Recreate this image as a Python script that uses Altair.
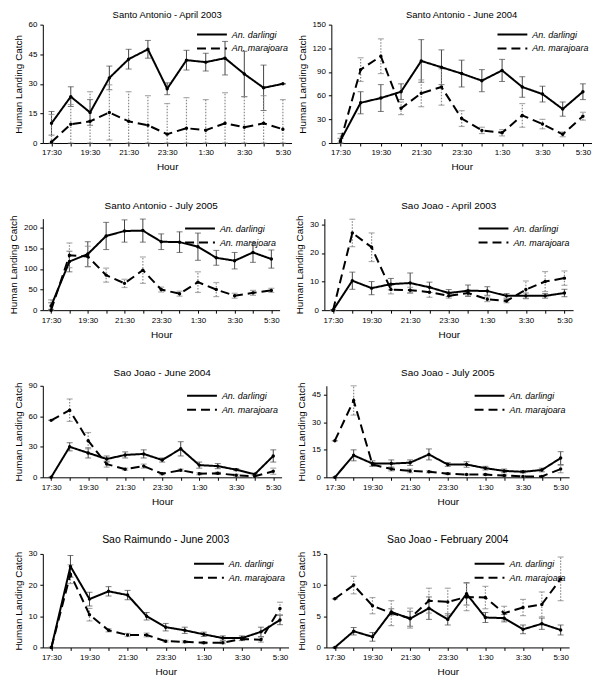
import altair as alt
import pandas as pd

HOURS = ["17:30", "18:30", "19:30", "20:30", "21:30", "22:30", "23:30",
         "0:30", "1:30", "2:30", "3:30", "4:30", "5:30"]
SERIES = ["An. darlingi", "An. marajoara"]

# Santo Antonio - April 2003
SA_APR03_D = [10, 23.5, 15.5, 33, 42.5, 47.5, 27.5, 42, 41, 43, 35, 28, 30]
SA_APR03_D_ERR = [6, 5, 6.5, 6, 5, 4.5, 3, 5, 4.5, 8.5, 11.5, 11.5, 0]
SA_APR03_M = [0.5, 9.5, 11, 15.5, 11, 9, 4.5, 7.5, 6.5, 10, 8, 10, 7]
SA_APR03_M_ERR = [14, 10, 15, 14, 15, 15, 15.5, 15.5, 15.5, 15.5, 15.5, 14, 15]
# Santo Antonio - June 2004
SA_JUN04_D = [3, 51, 57, 65, 104, 96, 88, 79, 92, 71, 62, 43, 65]
SA_JUN04_D_ERR = [3, 14, 17, 10, 27, 22, 17, 14, 14, 13, 10, 9, 10]
SA_JUN04_M = [2, 93, 110, 44, 63, 71, 31, 16, 13, 35, 24, 11, 34]
SA_JUN04_M_ERR = [10, 15, 22, 8, 17, 23, 10, 4, 4, 15, 6, 3, 5]
# Santo Antonio - July 2005
SA_JUL05_D = [10, 118, 136, 180, 192, 193, 166, 165, 154, 127, 120, 140, 124]
SA_JUL05_D_ERR = [8, 25, 30, 33, 27, 28, 19, 25, 33, 18, 20, 24, 22]
SA_JUL05_M = [0, 133, 130, 85, 65, 97, 50, 40, 68, 50, 35, 42, 48]
SA_JUL05_M_ERR = [25, 30, 25, 17, 10, 32, 6, 6, 25, 17, 6, 6, 5]
# Sao Joao - April 2003
SJ_APR03_D = [0, 10.3, 7.7, 9.1, 9.5, 8, 6, 6.8, 6.7, 5, 5, 5, 6]
SJ_APR03_D_ERR = [0, 3, 2.3, 2, 3.5, 1.8, 1.2, 2, 1.5, 0.8, 1, 0.8, 1.3]
SJ_APR03_M = [0, 27, 22, 7.2, 7, 6.3, 5, 6, 3.8, 3.2, 7.2, 10, 11.2]
SJ_APR03_M_ERR = [0, 4.8, 5, 1.5, 1, 1.8, 0.8, 1, 0.8, 0.6, 3, 3.5, 2.5]
# Sao Joao - June 2004
SJ_JUN04_D = [0, 30, 24, 18, 22, 23, 17, 28, 12, 11, 7.5, 3, 21]
SJ_JUN04_D_ERR = [0, 4, 5, 3, 3, 4, 2, 7, 3, 2.5, 1, 1, 6]
SJ_JUN04_M = [56, 66, 36, 13, 8, 11, 3.5, 7, 3.5, 4, 2, 1, 6]
SJ_JUN04_M_ERR = [0, 11, 8, 3, 1, 2, 1, 1, 1, 1, 1, 1, 3]
# Sao Joao - July 2005
SJ_JUL05_D = [0, 12, 7.5, 7.5, 8, 12.5, 7, 7, 5, 3.5, 3, 4, 10.5]
SJ_JUL05_D_ERR = [0, 3, 1.5, 2, 1.5, 3, 1, 1.5, 1, 1, 0.6, 1, 3.5]
SJ_JUL05_M = [20, 42, 7, 4.5, 3.5, 3, 2, 1.5, 1.5, 1, 0.5, 0.5, 4.5]
SJ_JUL05_M_ERR = [0, 8, 1, 1, 1, 0.5, 0.5, 0.3, 0.3, 0.3, 0.3, 0.3, 2]
# Sao Raimundo - June 2003
SR_JUN03_D = [0, 26, 15.5, 18, 16.8, 10, 6.5, 5.5, 4.2, 3, 3, 5, 8.8]
SR_JUN03_D_ERR = [0, 3.5, 2.2, 1.5, 1.5, 1.2, 1.2, 1, 0.7, 0.7, 0.7, 1.5, 1.5]
SR_JUN03_M = [0, 23.5, 10.5, 5.5, 4, 4, 2, 1.8, 1.5, 1.5, 2.7, 2.5, 12.5]
SR_JUN03_M_ERR = [0, 3, 2, 0.5, 0.5, 0.6, 0.3, 0.3, 0.3, 0.3, 0.5, 0.8, 2]
# Sao Joao - February 2004
SJ_FEB04_D = [0, 2.6, 1.7, 5.7, 4.6, 6.3, 4.5, 8.6, 4.8, 4.7, 2.9, 3.8, 2.8]
SJ_FEB04_D_ERR = [0, 0.6, 0.7, 0.5, 1.2, 1.8, 0.9, 1.8, 0.8, 0.6, 0.7, 0.9, 0.8]
SJ_FEB04_M = [7.8, 10, 6.7, 5.5, 4.7, 7.5, 7.3, 8.1, 8, 5.5, 6.4, 6.9, 11]
SJ_FEB04_M_ERR = [0, 1.4, 1.3, 2, 1.6, 2, 2.2, 2.2, 1.8, 1.1, 1.3, 2, 3.5]

PANELS = [
    ("Santo Antonio - April 2003", SA_APR03_D, SA_APR03_D_ERR, SA_APR03_M, SA_APR03_M_ERR, 60, [0, 15, 30, 45, 60]),
    ("Santo Antonio - June 2004", SA_JUN04_D, SA_JUN04_D_ERR, SA_JUN04_M, SA_JUN04_M_ERR, 150, [0, 30, 60, 90, 120, 150]),
    ("Santo Antonio - July 2005", SA_JUL05_D, SA_JUL05_D_ERR, SA_JUL05_M, SA_JUL05_M_ERR, 222, [0, 50, 100, 150, 200]),
    ("Sao Joao - April 2003", SJ_APR03_D, SJ_APR03_D_ERR, SJ_APR03_M, SJ_APR03_M_ERR, 32, [0, 10, 20, 30]),
    ("Sao Joao - June 2004", SJ_JUN04_D, SJ_JUN04_D_ERR, SJ_JUN04_M, SJ_JUN04_M_ERR, 90, [0, 30, 60, 90]),
    ("Sao Joao - July 2005", SJ_JUL05_D, SJ_JUL05_D_ERR, SJ_JUL05_M, SJ_JUL05_M_ERR, 50, [0, 15, 30, 45]),
    ("Sao Raimundo - June 2003", SR_JUN03_D, SR_JUN03_D_ERR, SR_JUN03_M, SR_JUN03_M_ERR, 30, [0, 10, 20, 30]),
    ("Sao Joao - February 2004", SJ_FEB04_D, SJ_FEB04_D_ERR, SJ_FEB04_M, SJ_FEB04_M_ERR, 15, [0, 5, 10, 15]),
]

FONT = "Liberation Sans"
label_js = "[" + ",".join("'" + h + "'" for h in HOURS) + "]"


def frame(vals, errs, name):
    return pd.DataFrame({
        "i": list(range(len(HOURS))),
        "v": vals,
        "lo": [max(0, v - e) for v, e in zip(vals, errs)],
        "hi": [v + e for v, e in zip(vals, errs)],
        "series": name,
    })


def panel(title, d, de, m, me, ymax, yticks, w, h, toff, tsize):
    df_d = frame(d, de, SERIES[0])
    df_m = frame(m, me, SERIES[1])
    df = pd.concat([df_d, df_m], ignore_index=True)
    x = alt.X("i:Q", scale=alt.Scale(domain=[-0.45, 12.45], nice=False, zero=False),
              axis=alt.Axis(values=list(range(len(HOURS))), title="Hour",
                            labelExpr="datum.value % 2 == 0 ? " + label_js + "[datum.value] : ''"))
    yscale = alt.Scale(domain=[0, ymax], nice=False)
    yaxis = alt.Axis(values=yticks, title="Human Landing Catch")
    err_d = alt.Chart(df_d).mark_errorbar(
        ticks={"size": 6}, color="#444444", thickness=1
    ).encode(x=x, y=alt.Y("lo:Q", scale=yscale, axis=yaxis), y2="hi:Q")
    err_m = alt.Chart(df_m).mark_errorbar(
        ticks={"size": 6, "strokeDash": [1.5, 1.5]}, rule={"strokeDash": [1.5, 1.5]},
        color="#8a8a8a", thickness=1.2
    ).encode(x=x, y=alt.Y("lo:Q", scale=yscale, axis=yaxis), y2="hi:Q")
    lines = alt.Chart(df).mark_line(color="black", strokeWidth=2).encode(
        x=x,
        y=alt.Y("v:Q", scale=yscale, axis=yaxis),
        strokeDash=alt.StrokeDash(
            "series:N",
            scale=alt.Scale(domain=SERIES, range=[[1, 0], [9, 5]]),
            legend=alt.Legend(title=None, orient="top-right", labelFontStyle="italic",
                              labelFontSize=9, labelFont=FONT, symbolType="M-1,0L4,0",
                              symbolStrokeWidth=2, symbolSize=144, symbolStrokeColor="black",
                              padding=0, offset=3, rowPadding=2, labelOffset=22),
        ),
    )
    pts = alt.Chart(df).mark_point(filled=True, color="black", size=12, opacity=1).encode(
        x=x, y=alt.Y("v:Q", scale=yscale, axis=yaxis), detail="series:N"
    )
    return alt.layer(err_d, err_m, lines, pts).properties(
        title=alt.TitleParams(title, offset=toff, fontSize=tsize), width=w, height=h
    )


rows = []
heights = [119, 92, 92, 94]
offsets = [1, 4, 4, 4]
tsizes = [9.5, 10, 10, 10.5]
left_w = [250, 238, 240, 247]
right_w = [262, 250, 244, 244]
gaps = [5, 15, 15, 8]
for r in range(4):
    left = panel(*PANELS[2 * r], w=left_w[r], h=heights[r], toff=offsets[r], tsize=tsizes[r])
    right = panel(*PANELS[2 * r + 1], w=right_w[r], h=heights[r], toff=offsets[r], tsize=tsizes[r])
    rows.append(alt.hconcat(left, right, spacing=gaps[r]).resolve_scale(strokeDash="independent").resolve_legend(strokeDash="independent"))

chart = alt.vconcat(*rows, spacing=29).resolve_scale(strokeDash="independent").resolve_legend(
    strokeDash="independent"
).properties(padding=0).configure_view(stroke=None).configure_axis(
    grid=False, domainColor="black", tickColor="black", labelColor="black", titleColor="black",
    labelFont=FONT, titleFont=FONT, titleFontWeight="normal", labelFontSize=8,
    titleFontSize=10, tickSize=3, labelPadding=3, titlePadding=5
).configure_title(
    font=FONT, fontSize=10, fontWeight="normal", color="black", offset=4, anchor="middle"
)

chart.save("out.html", embed_options={"renderer": "svg", "actions": False})
